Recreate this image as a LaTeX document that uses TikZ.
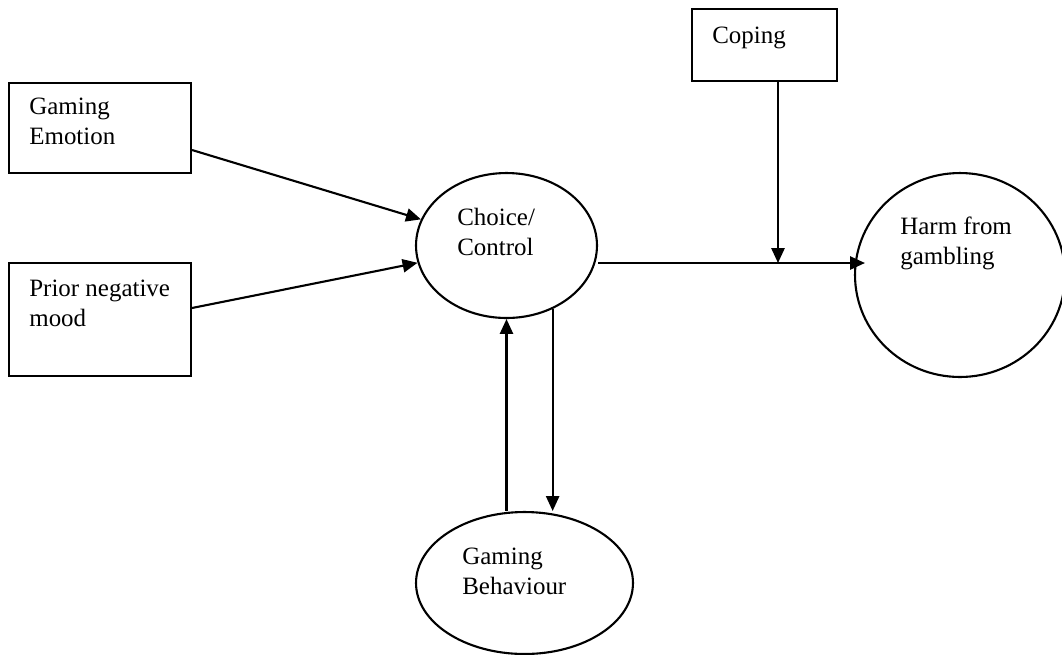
\documentclass[tikz,border=0pt]{standalone}
\usepackage{fontspec}
\setmainfont{Liberation Serif}
\usetikzlibrary{arrows.meta,calc,shapes.geometric}

\tikzset{
  box/.style={draw, line width=1.2pt, rectangle, inner sep=0pt},
  oval/.style={draw, line width=1.2pt, ellipse, inner sep=0pt},
  txt/.style={anchor=north west, inner sep=0pt, align=left,
    font=\fontsize{14.2pt}{16.7pt}\selectfont},
  arr/.style={line width=1.2pt, -{Triangle[length=8.5pt,width=7.5pt]}}
}

\begin{document}
\begin{tikzpicture}[x=0.02cm,y=-0.02cm]

% Fix the page to the size of the reference
\useasboundingbox (0,0) rectangle (1062,654);

% Define the shapes
\node[box, minimum width=3.64cm, minimum height=1.8cm] (emo) at (100,128) {};
\node[box, minimum width=3.64cm, minimum height=2.26cm] (mood) at (100,319.5) {};
\node[box, minimum width=2.9cm, minimum height=1.44cm] (cope) at (764.5,45) {};
\node[oval, minimum width=3.62cm, minimum height=2.9cm] (choice) at (506.5,245.5) {};
\node[oval, minimum width=4.2cm, minimum height=4.08cm] (harm) at (960,275) {};
\node[oval, minimum width=4.34cm, minimum height=2.84cm] (behav) at (524.5,583) {};

% Labels inside the shapes
\node[txt] (emotxt) at (29,98) {Gaming\\Emotion};
\node[txt] (moodtxt) at (29,280) {Prior negative\\mood};
\node[txt] (copetxt) at (712,27) {Coping};
\node[txt] (choicetxt) at (457,208) {Choice/\\Control};
\node[txt] (harmtxt) at (900,217) {Harm from\\gambling};
\node[txt] (behavtxt) at (462,548) {Gaming\\Behaviour};

% Point where coping meets the main path
\coordinate (mid) at (778,263);

% Arrows into choice/control
\draw[arr] ($(emo.east)+(0,22)$) -- (choice.163);
\draw[arr] ($(mood.east)+(0,-11.5)$) -- (choice.191);

% Arrow from choice/control to harm
\draw[arr, shorten >=-0.22cm] (choice.east |- mid) -- (harm.west |- mid);

% Arrow from coping down to the main path
\draw[arr] (cope.south -| mid) -- (mid);

% Loop between choice/control and behaviour
\draw[arr] (behav.north -| choice.south) -- (choice.south);
\draw[arr] (choice.306) -- (choice.306 |- behav.north);

\end{tikzpicture}
\end{document}
